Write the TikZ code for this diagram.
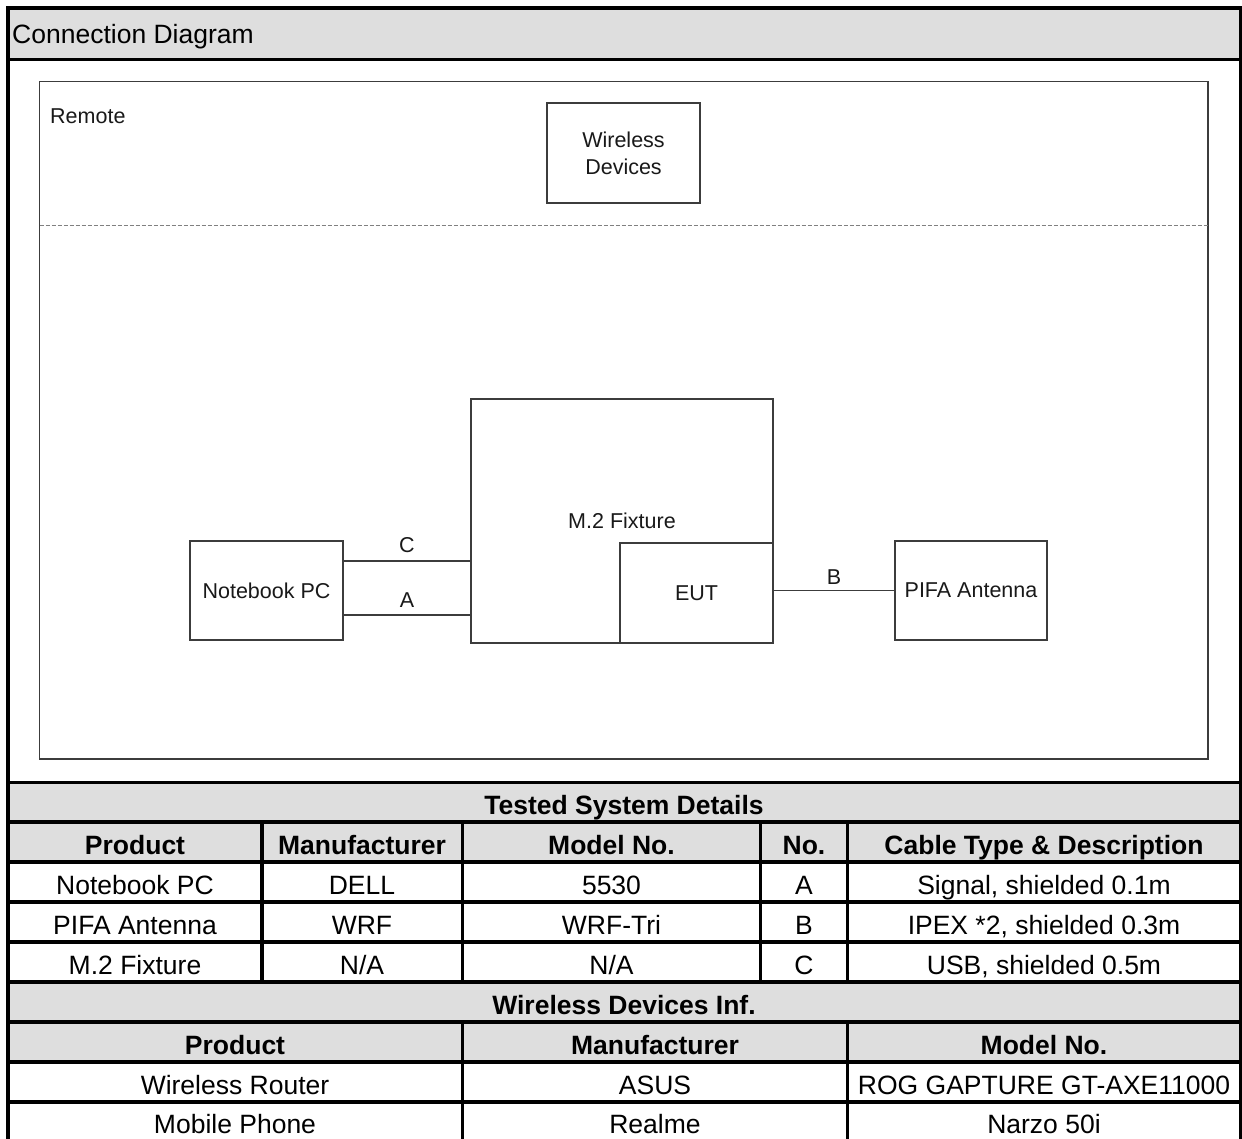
\documentclass[tikz,border=0pt]{standalone}
\usepackage{fontspec}
\setmainfont{Liberation Sans}
\definecolor{hdrgray}{RGB}{222,222,222}
\definecolor{dline}{RGB}{60,60,60}
\begin{document}
\begin{tikzpicture}[x=1pt,y=-1pt,
  frame/.style={line width=3.2pt, black},
  tcell/.style={font=\fontsize{26.5}{30}\selectfont, inner sep=0pt, anchor=base},
  thead/.style={tcell, font=\fontsize{26.5}{30}\selectfont\bfseries},
  dbox/.style={draw=dline, line width=1.4pt, fill=white, inner sep=0pt, align=center,
    font=\fontsize{21.5}{27}\selectfont, text=black!90},
  dwire/.style={draw=dline, line width=1.4pt},
  dlabel/.style={font=\fontsize{21.5}{25}\selectfont, text=black!90, inner sep=0pt}
]
\useasboundingbox (0,0) rectangle (1242,1138);
\clip (0,0) rectangle (1242,1138);

% ---------- backgrounds ----------
\fill[hdrgray] (8,8) rectangle (1240.5,59.5);
\fill[hdrgray] (8,782.5) rectangle (1240.5,862);
\fill[hdrgray] (8,982) rectangle (1240.5,1062);

% ---------- header ----------
\node[tcell, anchor=base west] (title) at (12,43) {Connection Diagram};

% ---------- diagram frame ----------
\draw[draw=dline, line width=1.3pt] (39.5,81.5) rectangle (1208,759);
\draw[draw=gray, line width=1pt, dash pattern=on 4pt off 2pt] (39.5,225) -- (1208,225);
\node[dlabel, anchor=base west] (remote) at (50,123.5) {Remote};

% ---------- diagram boxes ----------
\node[dbox, minimum width=153pt, minimum height=100pt] (wd) at (623.5,153) {Wireless\\Devices};
\node[dbox, minimum width=302pt, minimum height=244pt] (fix) at (622,521) {M.2 Fixture};
\node[dbox, minimum width=153pt, minimum height=100pt] (eut) at (696.5,593) {EUT};
\node[dbox, minimum width=153pt, minimum height=99pt] (nb) at (266.5,590.5) {Notebook PC};
\node[dbox, minimum width=152pt, minimum height=99pt] (pifa) at (971,590.5) {PIFA Antenna};

\coordinate (yC) at (0,561);
\coordinate (yA) at (0,615);
\draw[dwire] (nb.east |- yC) -- node[dlabel, midway, above=8pt] {C} (fix.west |- yC);
\draw[dwire] (nb.east |- yA) -- node[dlabel, midway, above=7pt] {A} (fix.west |- yA);
\draw[dwire] (eut.east |- pifa.west) -- node[dlabel, midway, above=5.5pt] {B} (pifa.west);

% ---------- outer frame and table lines ----------
\draw[frame] (8,8) -- (1240.5,8);
\draw[frame] (8,6.4) -- (8,1150);
\draw[frame] (1240.5,6.4) -- (1240.5,1150);
\foreach \yy in {59.5,782.5,822,862,902,942,982,1022,1062,1102}
  \draw[frame] (8,\yy) -- (1240.5,\yy);
\foreach \xx in {262,462.5,760.5,847.5}
  \draw[frame] (\xx,822) -- (\xx,982);
\foreach \xx in {462.5,847.5}
  \draw[frame] (\xx,1022) -- (\xx,1150);

% ---------- table 1 ----------
\node[thead] (t1) at (624,814) {Tested System Details};
\node[thead] (h1) at (135,854) {Product};
\node[thead] (h2) at (362,854) {Manufacturer};
\node[thead] (h3) at (611.5,854) {Model No.};
\node[thead] (h4) at (804,854) {No.};
\node[thead] (h5) at (1044,854) {Cable Type \& Description};

\node[tcell] (r1a) at (135,894) {Notebook PC};
\node[tcell] (r1b) at (362,894) {DELL};
\node[tcell] (r1c) at (611.5,894) {5530};
\node[tcell] (r1d) at (804,894) {A};
\node[tcell] (r1e) at (1044,894) {Signal, shielded 0.1m};

\node[tcell] (r2a) at (135,934) {PIFA Antenna};
\node[tcell] (r2b) at (362,934) {WRF};
\node[tcell] (r2c) at (611.5,934) {WRF-Tri};
\node[tcell] (r2d) at (804,934) {B};
\node[tcell] (r2e) at (1044,934) {IPEX *2, shielded 0.3m};

\node[tcell] (r3a) at (135,974) {M.2 Fixture};
\node[tcell] (r3b) at (362,974) {N/A};
\node[tcell] (r3c) at (611.5,974) {N/A};
\node[tcell] (r3d) at (804,974) {C};
\node[tcell] (r3e) at (1044,974) {USB, shielded 0.5m};

% ---------- table 2 ----------
\node[thead] (t2) at (624,1014) {Wireless Devices Inf.};
\node[thead] (g1) at (235,1054) {Product};
\node[thead] (g2) at (655,1054) {Manufacturer};
\node[thead] (g3) at (1044,1054) {Model No.};

\node[tcell] (s1a) at (235,1094) {Wireless Router};
\node[tcell] (s1b) at (655,1094) {ASUS};
\node[tcell] (s1c) at (1044,1094) {ROG GAPTURE GT-AXE11000};

\node[tcell] (s2a) at (235,1133.5) {Mobile Phone};
\node[tcell] (s2b) at (655,1133.5) {Realme};
\node[tcell] (s2c) at (1044,1133.5) {Narzo 50i};
\end{tikzpicture}
\end{document}
